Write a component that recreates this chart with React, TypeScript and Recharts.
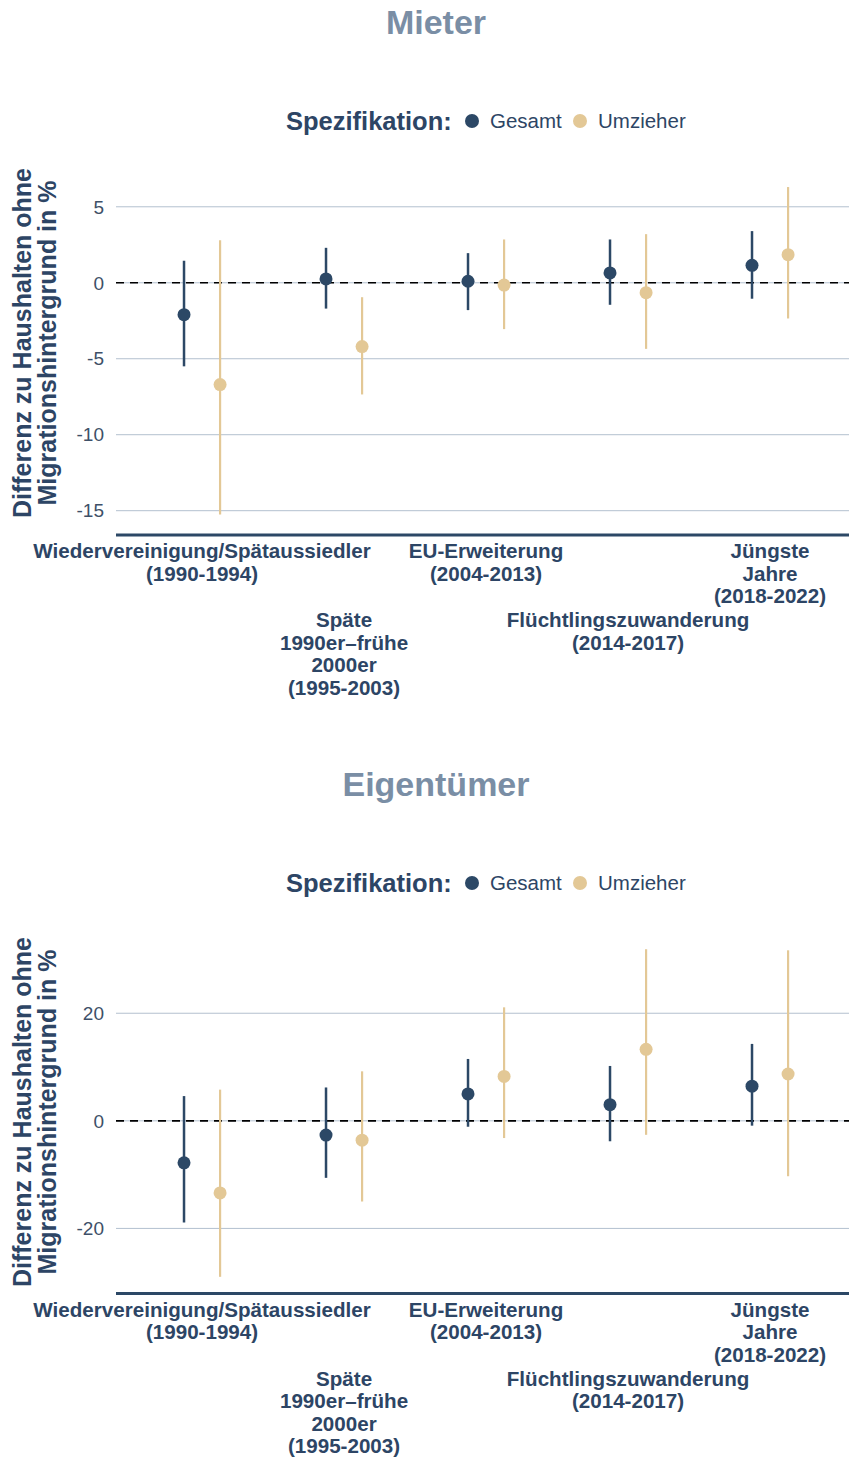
import React from 'react';
import {
  ScatterChart,
  Scatter,
  XAxis,
  YAxis,
  ReferenceLine,
  ErrorBar,
} from 'recharts';

const periods = [
  'Wiedervereinigung/Spätaussiedler\n(1990-1994)',
  'Späte\n1990er–frühe\n2000er\n(1995-2003)',
  'EU-Erweiterung\n(2004-2013)',
  'Flüchtlingszuwanderung\n(2014-2017)',
  'Jüngste\nJahre\n(2018-2022)',
];

// Mieter
const mieterGesamt = [-2.1, 0.25, 0.1, 0.65, 1.15];
const mieterGesamtLow = [-5.5, -1.7, -1.8, -1.45, -1.05];
const mieterGesamtHigh = [1.45, 2.3, 1.95, 2.85, 3.4];
const mieterUmzieher = [-6.7, -4.2, -0.15, -0.65, 1.85];
const mieterUmzieherLow = [-15.25, -7.35, -3.05, -4.35, -2.35];
const mieterUmzieherHigh = [2.8, -0.95, 2.85, 3.2, 6.3];
const mieterTicks = [-15, -10, -5, 0, 5];

// Eigentümer
const eigenGesamt = [-7.8, -2.65, 5.0, 3.0, 6.45];
const eigenGesamtLow = [-18.9, -10.6, -1.1, -3.8, -0.9];
const eigenGesamtHigh = [4.6, 6.2, 11.5, 10.2, 14.3];
const eigenUmzieher = [-13.4, -3.6, 8.25, 13.3, 8.7];
const eigenUmzieherLow = [-29.0, -15.0, -3.2, -2.6, -10.3];
const eigenUmzieherHigh = [5.8, 9.2, 21.1, 31.9, 31.7];
const eigenTicks = [-20, 0, 20];

const NAVY = '#2c4866';
const TAN = '#e3c896';
const TEXT = '#2d4565';
const FONT = '"Liberation Sans", Arial, sans-serif';

if (typeof document !== 'undefined') document.body.style.margin = '0';

function rows(est: number[], low: number[], high: number[], shift: number) {
  return est.map((v, i) => ({ x: i + 1 + shift, y: v, err: [v - low[i], high[i] - v] }));
}

const XTick = (props: any) => {
  const { x, y, payload, index } = props;
  const lines = periods[payload.value - 1].split('\n');
  const base = index % 2 === 1 ? 92 : 23;
  return (
    <text x={x} y={y + base} textAnchor="middle" fill={TEXT} fontSize={20.6} fontWeight="bold" fontFamily={FONT}>
      {lines.map((l, i) => (
        <tspan key={i} x={x} dy={i === 0 ? 0 : 22.5}>{l}</tspan>
      ))}
    </text>
  );
};

const dot = (color: string) => (p: any) => <circle cx={p.cx} cy={p.cy} r={6.5} fill={color} />;

const legendDot = (color: string, cx: number) => (
  <span style={{ position: 'absolute', left: cx - 7, top: 8, width: 14, height: 14, borderRadius: 7, background: color }} />
);

function Panel(props: {
  title: string;
  top: number;
  plotTop: number;
  plotHeight: number;
  domain: [number, number];
  ticks: number[];
  gesamt: any[];
  umzieher: any[];
  labelY: number;
}) {
  const { title, top, plotTop, plotHeight, domain, ticks, gesamt, umzieher, labelY } = props;
  const height = plotTop + plotHeight + 165;
  return (
    <div style={{ position: 'absolute', left: 0, top, width: 849, height }}>
      <div style={{ position: 'absolute', left: 236, width: 400, top: 1, textAlign: 'center', fontFamily: FONT, fontWeight: 'bold', fontSize: 34, color: '#7a8ea5', lineHeight: '42px' }}>
        {title}
      </div>
      <div style={{ position: 'absolute', top: 106, left: 0, width: 849, height: 30, fontFamily: FONT, color: TEXT, whiteSpace: 'nowrap', lineHeight: '30px' }}>
        <span style={{ position: 'absolute', left: 286, fontWeight: 'bold', fontSize: 25.5 }}>Spezifikation:</span>
        {legendDot(NAVY, 472)}
        <span style={{ position: 'absolute', left: 490, fontSize: 20.5 }}>Gesamt</span>
        {legendDot(TAN, 580)}
        <span style={{ position: 'absolute', left: 598, fontSize: 20.5 }}>Umzieher</span>
      </div>
      <div style={{ position: 'absolute', left: 35 - 200, top: labelY - 25, width: 400, height: 50, transform: 'rotate(-90deg)', textAlign: 'center', fontFamily: FONT, fontWeight: 'bold', fontSize: 25, lineHeight: '25px', color: TEXT, whiteSpace: 'nowrap' }}>
        Differenz zu Haushalten ohne<br />Migrationshintergrund in %
      </div>
      <div style={{ position: 'absolute', left: 0, top: 0 }}>
        <ScatterChart width={849} height={height} margin={{ top: plotTop, right: 0, bottom: 0, left: 0 }}>
          <XAxis
            type="number"
            dataKey="x"
            domain={[0.394, 5.556]}
            ticks={[1, 2, 3, 4, 5]}
            interval={0}
            allowDataOverflow
            height={165}
            tickLine={false}
            tickSize={0}
            tickMargin={0}
            axisLine={{ stroke: NAVY, strokeWidth: 3 }}
            tick={<XTick />}
          />
          <YAxis
            type="number"
            dataKey="y"
            domain={domain}
            ticks={ticks}
            interval={0}
            allowDataOverflow
            width={116}
            axisLine={false}
            tickLine={false}
            tickSize={0}
            tickMargin={12}
            tick={{ fontSize: 19, fill: '#3e5068', fontFamily: FONT }}
          />
          {ticks.map((t) => (
            <ReferenceLine key={t} y={t} stroke="#b3c0cf" strokeWidth={1} />
          ))}
          <ReferenceLine y={0} stroke="#000" strokeDasharray="8 6" strokeWidth={1.6} />
          <Scatter data={gesamt} dataKey="y" fill={NAVY} shape={dot(NAVY)} isAnimationActive={false}>
            <ErrorBar dataKey="err" direction="y" width={0} stroke={NAVY} strokeWidth={2.5} isAnimationActive={false} />
          </Scatter>
          <Scatter data={umzieher} dataKey="y" fill={TAN} shape={dot(TAN)} isAnimationActive={false}>
            <ErrorBar dataKey="err" direction="y" width={0} stroke={TAN} strokeWidth={2.2} isAnimationActive={false} />
          </Scatter>
        </ScatterChart>
      </div>
    </div>
  );
}

export default function App() {
  return (
    <div style={{ position: 'relative', width: 849, height: 1461, background: '#fff', overflow: 'hidden' }}>
      <Panel
        title="Mieter"
        top={0}
        plotTop={184}
        plotHeight={351}
        domain={[-16.6, 6.5]}
        ticks={mieterTicks}
        gesamt={rows(mieterGesamt, mieterGesamtLow, mieterGesamtHigh, -0.127)}
        umzieher={rows(mieterUmzieher, mieterUmzieherLow, mieterUmzieherHigh, 0.127)}
        labelY={343}
      />
      <Panel
        title="Eigentümer"
        top={762}
        plotTop={184}
        plotHeight={347.5}
        domain={[-32.1, 32.5]}
        ticks={eigenTicks}
        gesamt={rows(eigenGesamt, eigenGesamtLow, eigenGesamtHigh, -0.127)}
        umzieher={rows(eigenUmzieher, eigenUmzieherLow, eigenUmzieherHigh, 0.127)}
        labelY={350}
      />
    </div>
  );
}
